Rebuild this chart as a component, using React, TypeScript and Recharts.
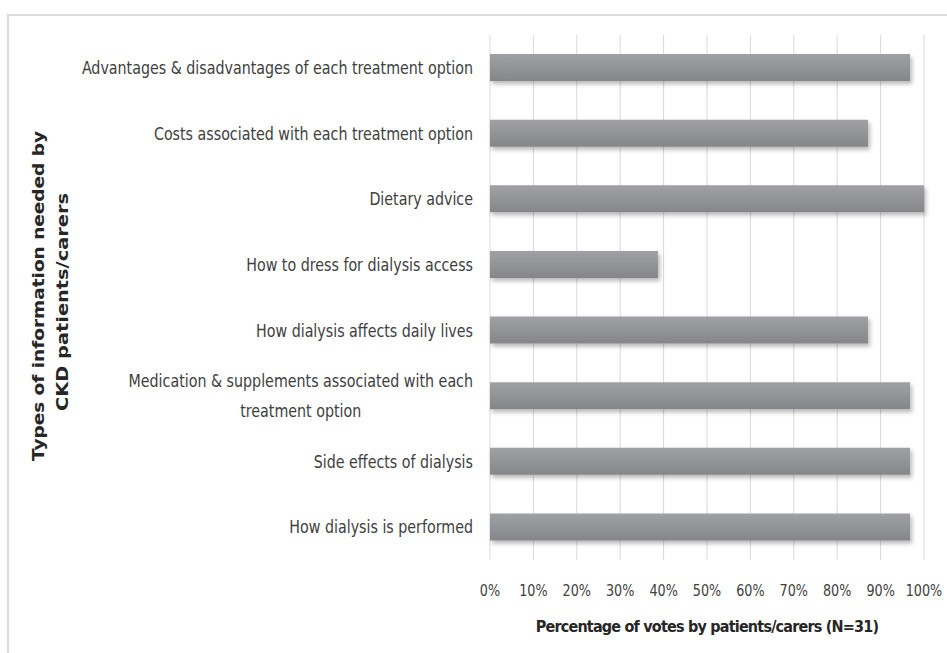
import { BarChart, Bar, XAxis, YAxis, CartesianGrid } from 'recharts';

const categories = [
  'Advantages & disadvantages of each treatment option',
  'Costs associated with each treatment option',
  'Dietary advice',
  'How to dress for dialysis access',
  'How dialysis affects daily lives',
  'Medication & supplements associated with each\ntreatment option',
  'Side effects of dialysis',
  'How dialysis is performed',
];

// share of the 31 patients/carers voting for each item (%)
const votes = [96.8, 87.1, 100, 38.7, 87.1, 96.8, 96.8, 96.8];

const xTicks = [0, 10, 20, 30, 40, 50, 60, 70, 80, 90, 100];

const xTitle = 'Percentage of votes by patients/carers (N=31)';
const yTitle = ['Types of information needed by', 'CKD patients/carers'];

const data = categories.map((name, i) => ({ name, value: votes[i] }));

const LABEL_FONT = '"DejaVu Sans Condensed", "Liberation Sans Narrow", sans-serif';
const TITLE_FONT = '"DejaVu Sans", "Open Sans", sans-serif';

let ctx: CanvasRenderingContext2D | null = null;
function textWidth(s: string, font: string) {
  if (!ctx) ctx = document.createElement('canvas').getContext('2d');
  if (!ctx) return s.length * 8;
  ctx.font = font;
  return ctx.measureText(s).width;
}

// narrow text, a stand-in for the Calibri of the original
function Narrow(props: any) {
  const {
    x, y, children, size = 18, weight = 400, anchor = 'middle',
    fill = '#404040', dy = '0.35em', squeeze = 0.88,
  } = props;
  const w = textWidth(children, `${weight} ${size}px ${LABEL_FONT}`) * squeeze;
  return (
    <text
      x={x}
      y={y}
      dy={dy}
      textAnchor={anchor}
      fill={fill}
      fontSize={size}
      fontWeight={weight}
      fontFamily={LABEL_FONT}
      textLength={w}
      lengthAdjust="spacingAndGlyphs"
    >
      {children}
    </text>
  );
}

function CategoryTick(props: any) {
  const { x, y, payload } = props;
  const lines: string[] = String(payload.value).split('\n');
  const widest = Math.max(...lines.map((l) => textWidth(l, `18px ${LABEL_FONT}`) * 0.88));
  const cx = x - widest / 2;
  const lineH = 30;
  const top = y - ((lines.length - 1) * lineH) / 2;
  return (
    <g>
      {lines.map((l, i) => (
        <Narrow key={i} x={cx} y={top + i * lineH}>
          {l}
        </Narrow>
      ))}
    </g>
  );
}

function PercentTick(props: any) {
  const { x, y, payload } = props;
  return (
    <Narrow x={x} y={y} dy="0.71em" size={16.5} squeeze={0.86}>
      {`${payload.value}%`}
    </Narrow>
  );
}

function XTitle(props: any) {
  const vb = props.viewBox || { x: 490, y: 560, width: 434 };
  return (
    <text
      x={vb.x + vb.width / 2}
      y={vb.y + 66}
      dy="0.35em"
      textAnchor="middle"
      fill="#262626"
      fontSize={16}
      fontWeight={700}
      letterSpacing={-0.8}
      fontFamily={LABEL_FONT}
    >
      {xTitle}
    </text>
  );
}

function YTitle() {
  return (
    <g transform="rotate(-90, 50, 296)" fill="#262626" fontFamily={TITLE_FONT} fontWeight={700} fontSize={16}>
      <text x={50} y={290} textAnchor="middle" textLength={330} lengthAdjust="spacingAndGlyphs">
        {yTitle[0]}
      </text>
      <text x={44} y={314} textAnchor="middle" textLength={218} lengthAdjust="spacingAndGlyphs">
        {yTitle[1]}
      </text>
    </g>
  );
}

export default function App() {
  return (
    <div style={{ position: 'absolute', left: 0, top: 0, width: 947, height: 653, overflow: 'hidden', background: '#fff' }}>
      <div
        style={{
          position: 'absolute',
          left: 7,
          top: 14,
          width: 1000,
          height: 700,
          borderTop: '2px solid #dcdcdc',
          borderLeft: '2px solid #dcdcdc',
        }}
      />
      <BarChart
        width={947}
        height={653}
        data={data}
        layout="vertical"
        margin={{ top: 35, right: 23, bottom: 0, left: 0 }}
        style={{ position: 'absolute', left: 0, top: 0 }}
      >
        <defs>
          <linearGradient id="barFill" x1="0" y1="0" x2="0" y2="1">
            <stop offset="0%" stopColor="#a0a1a5" />
            <stop offset="100%" stopColor="#85868a" />
          </linearGradient>
          <filter id="barShadow" x="-5%" y="-30%" width="110%" height="170%">
            <feDropShadow dx="2" dy="3" stdDeviation="2" floodColor="#000" floodOpacity="0.28" />
          </filter>
        </defs>
        <CartesianGrid horizontal={false} stroke="#d9d9d9" />
        <XAxis
          type="number"
          domain={[0, 100]}
          ticks={xTicks}
          height={93}
          axisLine={false}
          tickLine={false}
          tickSize={0}
          tickMargin={24}
          interval={0}
          tick={<PercentTick />}
          label={{ content: (p: any) => <XTitle {...p} /> }}
        />
        <YAxis
          type="category"
          dataKey="name"
          width={490}
          axisLine={false}
          tickLine={false}
          tickSize={0}
          tickMargin={17}
          interval={0}
          tick={<CategoryTick />}
          label={{ content: () => <YTitle /> }}
        />
        <Bar
          dataKey="value"
          barSize={27}
          fill="url(#barFill)"
          filter="url(#barShadow)"
          isAnimationActive={false}
        />
      </BarChart>
    </div>
  );
}
